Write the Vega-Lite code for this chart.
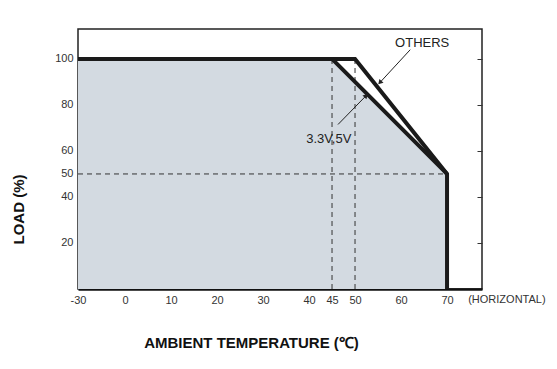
{
  "$schema": "https://vega.github.io/schema/vega-lite/v6.json",
  "width": 404,
  "height": 260,
  "autosize": {"type": "none"},
  "padding": {"left": 78, "top": 29, "right": 75, "bottom": 80},
  "background": "white",
  "config": {
    "view": {"stroke": "#222", "strokeWidth": 1.5},
    "font": "Liberation Sans",
    "axis": {"labelFont": "Liberation Sans", "labelFontSize": 11, "labelColor": "#333", "grid": false}
  },
  "datasets": {
    "fill": [
      {"t": -30, "load": 100},
      {"t": 45, "load": 100},
      {"t": 70, "load": 50}
    ],
    "dashes": [
      {"t": -30, "load": 50, "t2": 70, "load2": 50},
      {"t": 45, "load": 0, "t2": 45, "load2": 100},
      {"t": 50, "load": 0, "t2": 50, "load2": 100}
    ],
    "curves": [
      {"series": "OTHERS", "ord": 1, "t": -30, "load": 100},
      {"series": "OTHERS", "ord": 2, "t": 50, "load": 100},
      {"series": "OTHERS", "ord": 3, "t": 70, "load": 50},
      {"series": "OTHERS", "ord": 4, "t": 70, "load": 0},
      {"series": "3.3V,5V", "ord": 1, "t": 45, "load": 100},
      {"series": "3.3V,5V", "ord": 2, "t": 70, "load": 50}
    ],
    "arrows": [
      {"label": "OTHERS", "t": 62, "load": 104, "t2": 55.4, "load2": 89.7},
      {"label": "3.3V,5V", "t": 46.3, "load": 71.5, "t2": 52.4, "load2": 84}
    ],
    "labels": [
      {"text": "OTHERS", "t": 64.6, "load": 107},
      {"text": "3.3V,5V", "t": 44.3, "load": 65.3}
    ],
    "note": [
      {"text": "(HORIZONTAL)", "t": 74.6, "load": -4.7}
    ]
  },
  "layer": [
    {
      "data": {"name": "fill"},
      "mark": {"type": "area", "color": "#d3dae1", "opacity": 1},
      "encoding": {
        "x": {
          "field": "t", "type": "quantitative",
          "scale": {"domain": [-30, 0, 77.6], "range": [0, 47, 404], "zero": false, "nice": false},
          "axis": {
            "values": [-30, 0, 10, 20, 30, 40, 45, 50, 60, 70],
            "labelExpr": "'' + datum.value",
            "labelFlush": false,
            "tickSize": -5, "tickColor": "#6f8aaa", "tickWidth": 1,
            "labelPadding": 10,
            "domainColor": "#111", "domainWidth": 2.5,
            "title": "AMBIENT TEMPERATURE (℃)",
            "titleFont": "Liberation Sans", "titleFontSize": 15, "titleFontWeight": "bold", "titleColor": "#111",
            "titleX": 173, "titleY": 53, "titleBaseline": "middle", "titleAlign": "center"
          }
        },
        "y": {
          "field": "load", "type": "quantitative",
          "scale": {"domain": [0, 113], "zero": true, "nice": false},
          "axis": {
            "orient": "left",
            "values": [20, 40, 50, 60, 80, 100],
            "labelFlush": false,
            "tickSize": -5, "tickColor": "#6f8aaa", "tickWidth": 1,
            "labelPadding": 10,
            "domain": false,
            "title": "LOAD (%)",
            "titleFont": "Liberation Sans", "titleFontSize": 15, "titleFontWeight": "bold", "titleColor": "#111",
            "titleX": -60, "titleY": 180, "titleAngle": -90, "titleAlign": "center", "titleBaseline": "middle"
          }
        },
        "y2": {"datum": 0}
      }
    },
    {
      "data": {"name": "dashes"},
      "mark": {"type": "rule", "color": "#333", "strokeWidth": 1, "strokeDash": [5, 4]},
      "encoding": {
        "x": {"field": "t", "type": "quantitative"},
        "y": {"field": "load", "type": "quantitative", "axis": {"orient": "right", "values": [20, 40, 60, 80, 100], "labels": false, "tickSize": -5, "tickColor": "#333", "domain": false, "title": null}},
        "x2": {"field": "t2"},
        "y2": {"field": "load2"}
      }
    },
    {
      "data": {"name": "curves"},
      "mark": {"type": "line", "color": "#1a1a1a", "strokeWidth": 4, "strokeJoin": "miter", "strokeCap": "butt"},
      "encoding": {
        "x": {"field": "t", "type": "quantitative"},
        "y": {"field": "load", "type": "quantitative", "axis": null},
        "detail": {"field": "series"},
        "order": {"field": "ord"}
      }
    },
    {
      "data": {"name": "arrows"},
      "mark": {"type": "rule", "color": "#222", "strokeWidth": 1},
      "encoding": {
        "x": {"field": "t", "type": "quantitative"},
        "y": {"field": "load", "type": "quantitative", "axis": null},
        "x2": {"field": "t2"},
        "y2": {"field": "load2"}
      }
    },
    {
      "data": {"name": "arrows"},
      "transform": [{"filter": "datum.label == 'OTHERS'"}],
      "mark": {"type": "point", "shape": "triangle-up", "filled": true, "color": "#222", "size": 30, "angle": 222, "opacity": 1},
      "encoding": {
        "x": {"field": "t2", "type": "quantitative"},
        "y": {"field": "load2", "type": "quantitative", "axis": null}
      }
    },
    {
      "data": {"name": "arrows"},
      "transform": [{"filter": "datum.label == '3.3V,5V'"}],
      "mark": {"type": "point", "shape": "triangle-up", "filled": true, "color": "#222", "size": 30, "angle": 43, "opacity": 1},
      "encoding": {
        "x": {"field": "t2", "type": "quantitative"},
        "y": {"field": "load2", "type": "quantitative", "axis": null}
      }
    },
    {
      "data": {"name": "labels"},
      "mark": {"type": "text", "font": "Liberation Sans", "fontSize": 13, "color": "#222", "align": "center", "baseline": "middle"},
      "encoding": {
        "x": {"field": "t", "type": "quantitative"},
        "y": {"field": "load", "type": "quantitative", "axis": null},
        "text": {"field": "text"}
      }
    },
    {
      "data": {"name": "note"},
      "mark": {"type": "text", "font": "Liberation Sans", "fontSize": 11, "color": "#333", "align": "left", "baseline": "middle"},
      "encoding": {
        "x": {"field": "t", "type": "quantitative"},
        "y": {"field": "load", "type": "quantitative", "axis": null},
        "text": {"field": "text"}
      }
    }
  ],
  "resolve": {"axis": {"y": "independent"}}
}
